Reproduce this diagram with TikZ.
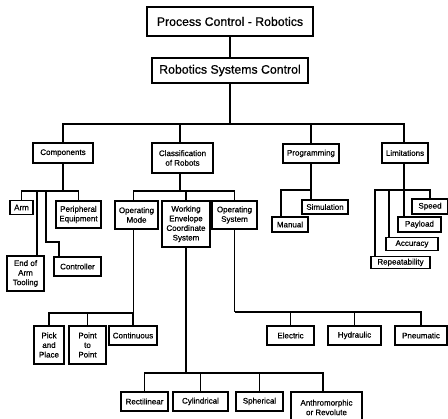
\documentclass[tikz,border=0pt]{standalone}
\usepackage{fontspec}
\setmainfont{Liberation Sans}[FakeBold=0.7]
\usetikzlibrary{positioning}

\begin{document}
\begin{tikzpicture}[
    x=1pt, y=-1pt,
    box/.style={rectangle, draw, line width=1.4pt, inner sep=1pt, align=center, font=\fontsize{8}{9.6}\selectfont},
    bigbox/.style={box, font=\fontsize{12.3}{14}\selectfont},
    link/.style={line width=1.3pt}
]
    \useasboundingbox (0,0) rectangle (448,419);
    % top
    \node[bigbox, minimum width=166pt, minimum height=29pt] (proc) at (230,21.5) {Process Control - Robotics};
    \node[bigbox, minimum width=156pt, minimum height=25pt] (rsc) at (230,70.5) {Robotics Systems Control};
    % second level
    \node[box, minimum width=60pt, minimum height=20pt] (comp) at (63,153) {Components};
    \node[box, minimum width=61pt, minimum height=30pt] (class) at (182.5,158) {Classification\\of Robots};
    \node[box, minimum width=56pt, minimum height=19pt] (prog) at (311,153.5) {Programming};
    \node[box, minimum width=46pt, minimum height=20pt] (lim) at (405,153) {Limitations};
    % components
    \node[box, minimum width=23pt, minimum height=14pt] (arm) at (21.5,207.5) {Arm};
    \node[box, minimum width=45pt, minimum height=27pt] (periph) at (78.5,214.5) {Peripheral\\Equipment};
    \node[box, minimum width=37pt, minimum height=35pt] (eoat) at (25.5,273.5) {End of\\Arm\\Tooling};
    \node[box, minimum width=47pt, minimum height=19pt] (ctrl) at (77.5,266.5) {Controller};
    % classification
    \node[box, minimum width=43pt, minimum height=28pt] (opmode) at (136.5,215) {Operating\\Mode};
    \node[box, minimum width=48pt, minimum height=46pt] (wecs) at (186,224) {Working\\Envelope\\Coordinate\\System};
    \node[box, minimum width=45pt, minimum height=28pt] (opsys) at (234.5,215) {Operating\\System};
    \node[box, minimum width=30pt, minimum height=38pt] (pnp) at (49,345) {Pick\\and\\Place};
    \node[box, minimum width=37pt, minimum height=38pt] (ptp) at (87.5,345) {Point\\to\\Point};
    \node[box, minimum width=48pt, minimum height=19pt] (cont) at (133,335.5) {Continuous};
    \node[box, minimum width=47pt, minimum height=19pt] (rect) at (144.5,401.5) {Rectilinear};
    \node[box, minimum width=55pt, minimum height=19pt] (cyl) at (200.5,401.5) {Cylindrical};
    \node[box, minimum width=47pt, minimum height=19pt] (sph) at (259.5,401.5) {Spherical};
    \node[box, minimum width=71pt, minimum height=31pt] (anth) at (326.5,407.5) {Anthromorphic\\or Revolute};
    \node[box, minimum width=47pt, minimum height=19pt] (elec) at (290.5,335.5) {Electric};
    \node[box, minimum width=53pt, minimum height=19pt] (hyd) at (354.5,335.5) {Hydraulic};
    \node[box, minimum width=52pt, minimum height=19pt] (pneu) at (421,335.5) {Pneumatic};
    % programming
    \node[box, minimum width=46pt, minimum height=14pt] (sim) at (325,207) {Simulation};
    \node[box, minimum width=36pt, minimum height=15pt] (manual) at (290,224.5) {Manual};
    % limitations
    \node[box, minimum width=36pt, minimum height=15pt] (speed) at (430,206.5) {Speed};
    \node[box, minimum width=43pt, minimum height=15pt] (payload) at (419.5,224.5) {Payload};
    \node[box, minimum width=52pt, minimum height=13pt] (accur) at (412,244) {Accuracy};
    \node[box, minimum width=59pt, minimum height=12pt] (repeat) at (400.5,262.5) {Repeatability};

    % bus points
    \coordinate (trunk) at (230,124);
    \coordinate (cbus) at (63,191);
    \coordinate (jog) at (46,242);
    \coordinate (kbus) at (180,191);
    \coordinate (obus) at (133.5,313);
    \coordinate (wbus) at (186,373);
    \coordinate (sbus) at (234.5,312);
    \coordinate (pbus) at (311,190);
    \coordinate (lbus) at (404,190);

    \draw[link] (proc) -- (rsc);
    \draw[link] (rsc) -- (trunk);
    \draw[link] (trunk) -| (comp);
    \draw[link] (trunk) -| (kbus |- class.north);
    \draw[link] (trunk) -| (prog);
    \draw[link] (trunk) -| (lbus |- lim.north);
    % components
    \draw[link] (comp) -- (cbus);
    \draw[link] (cbus) -| (arm);
    \draw[link] (cbus) -| (periph);
    \draw[link] (cbus) -| ([xshift=11.5pt]eoat.north);
    \draw[link] (cbus) -| (jog) -| ([xshift=-18.5pt]ctrl.north);
    % classification
    \draw[link] (kbus |- class.south) -- (kbus);
    \draw[link] (kbus) -| ([xshift=-3pt]opmode.north);
    \draw[link] (kbus) -| (wecs);
    \draw[link] (kbus) -| (opsys);
    \draw[link] ([xshift=-3pt]opmode.south) -- (obus);
    \draw[link] (obus) -| (pnp);
    \draw[link] (obus) -| (ptp);
    \draw[link] (obus) -| (cont);
    \draw[link] (wecs) -- (wbus);
    \draw[link] (wbus) -| (rect);
    \draw[link] (wbus) -| (cyl);
    \draw[link] (wbus) -| (sph);
    \draw[link] (wbus) -| ([xshift=-3.5pt]anth.north);
    \draw[link] (opsys) -- (sbus);
    \draw[link] (sbus) -| (elec);
    \draw[link] (sbus) -| (hyd);
    \draw[link] (sbus) -| (pneu);
    % programming
    \draw[link] (prog) -- (pbus) -- (pbus |- sim.north);
    \draw[link] (pbus) -| ([xshift=-9pt]manual.north);
    % limitations
    \draw[link] (lbus |- lim.south) -- (lbus) -- (lbus |- payload.north);
    \draw[link] (lbus) -| (speed);
    \draw[link] (lbus) -| ([xshift=-23pt]accur.north);
    \draw[link] (lbus) -| ([xshift=-25.5pt]repeat.north);
\end{tikzpicture}
\end{document}
